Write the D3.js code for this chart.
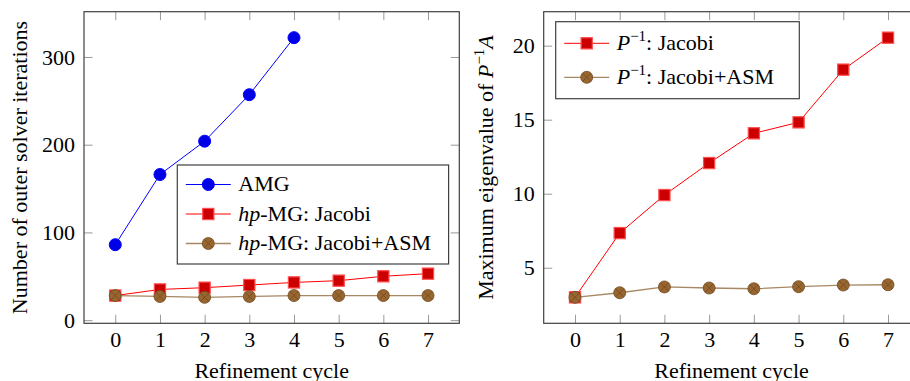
<!DOCTYPE html>
<html>
<head>
<meta charset="utf-8">
<script src="https://cdn.jsdelivr.net/npm/d3@7"></script>
<style>
  body { margin: 0; background: #fff; }
  svg { display: block; }
</style>
</head>
<body>
<div id="charts"></div>
<script>
var cycles = [0, 1, 2, 3, 4, 5, 6, 7];

// left panel: outer solver iterations
var amgIters = [86, 166, 204, 257, 322];
var jacobiIters = [28, 35, 37, 40, 43, 45, 50, 53];
var asmIters = [28, 27, 26, 27, 28, 28, 28, 28];
var leftTicks = [0, 100, 200, 300];

// right panel: max eigenvalue of P^-1 A
var jacobiEig = [3.0, 7.34, 9.91, 12.07, 14.08, 14.82, 18.38, 20.54];
var asmEig = [3.0, 3.31, 3.70, 3.63, 3.58, 3.72, 3.83, 3.85];
var rightTicks = [5, 10, 15, 20];

var FONT = 'Liberation Serif';
var W = 910, H = 381;
var svg = d3.select('#charts').append('svg')
  .attr('width', W)
  .attr('height', H)
  .attr('font-family', FONT)
  .attr('font-size', 22);

var styles = {
  amg:    {line: '#0000ff', lw: 1, mark: 'circle', fill: '#0000e6', stroke: '#0000ff'},
  jacobi: {line: '#ff0000', lw: 1, mark: 'square', fill: '#cc0000', stroke: '#ff4d4d'},
  asm:    {line: '#a88763', lw: 1.3, mark: 'otimes', fill: '#99662f', stroke: '#6e4a22'}
};

function enlarge(lo, hi) {
  var d = (hi - lo) * 0.1;
  return [lo - d, hi + d];
}

function drawMark(g, kind, st, cx, cy) {
  if (kind == 'circle') {
    g.append('circle').attr('cx', cx).attr('cy', cy).attr('r', 6)
      .attr('fill', st.fill).attr('stroke', st.stroke).attr('stroke-width', 1);
  } else if (kind == 'square') {
    g.append('rect').attr('x', cx - 5.6).attr('y', cy - 5.6)
      .attr('width', 11.2).attr('height', 11.2)
      .attr('fill', st.fill).attr('stroke', st.stroke).attr('stroke-width', 1.2);
  } else {
    g.append('circle').attr('cx', cx).attr('cy', cy).attr('r', 6)
      .attr('fill', st.fill).attr('stroke', st.stroke).attr('stroke-width', 0.8);
    var k = 6 * Math.SQRT1_2;
    g.append('path')
      .attr('d', 'M' + (cx - k) + ',' + (cy - k) + 'L' + (cx + k) + ',' + (cy + k) +
                 'M' + (cx - k) + ',' + (cy + k) + 'L' + (cx + k) + ',' + (cy - k))
      .attr('stroke', st.stroke).attr('stroke-width', 0.8);
  }
}

function panel(opt) {
  var x = d3.scaleLinear().domain(enlarge(0, 7)).range([opt.left, opt.right]);
  var y = d3.scaleLinear().domain(enlarge(opt.ymin, opt.ymax)).range([323.3, 11.7]);
  var g = svg.append('g');

  // ticks (inward on all four sides)
  var tl = 8.5;
  g.append('g').attr('transform', 'translate(0,323.3)')
    .call(d3.axisBottom(x).tickValues(cycles).tickSizeInner(-tl).tickSizeOuter(0).tickPadding(8.5));
  g.append('g').attr('transform', 'translate(0,11.7)')
    .call(d3.axisTop(x).tickValues(cycles).tickSizeInner(-tl).tickSizeOuter(0).tickFormat(''));
  g.append('g').attr('transform', 'translate(' + opt.left + ',0)')
    .call(d3.axisLeft(y).tickValues(opt.ticks).tickSizeInner(-tl).tickSizeOuter(0).tickPadding(9));
  g.append('g').attr('transform', 'translate(' + opt.right + ',0)')
    .call(d3.axisRight(y).tickValues(opt.ticks).tickSizeInner(-tl).tickSizeOuter(0).tickFormat(''));
  g.selectAll('.domain').remove();
  g.selectAll('.tick line').attr('stroke', '#999').attr('stroke-width', 1);
  g.selectAll('.tick text').attr('fill', '#000');

  g.append('rect')
    .attr('x', opt.left).attr('y', 11.7)
    .attr('width', opt.right - opt.left).attr('height', 323.3 - 11.7)
    .attr('fill', 'none').attr('stroke', '#404040').attr('stroke-width', 1.2);

  // series
  opt.series.forEach(function(s) {
    var st = styles[s.style];
    var pts = s.values.map(function(v, i) { return [x(cycles[i]), y(v)]; });
    g.append('path').attr('d', d3.line()(pts))
      .attr('fill', 'none').attr('stroke', st.line).attr('stroke-width', st.lw);
    pts.forEach(function(p) { drawMark(g, st.mark, st, p[0], p[1]); });
  });

  // axis labels
  g.append('text')
    .attr('x', (opt.left + opt.right) / 2).attr('y', 378)
    .attr('text-anchor', 'middle')
    .text('Refinement cycle');

  var yl = g.append('text')
    .attr('transform', 'translate(' + opt.ylabelX + ',167.5)rotate(-90)')
    .attr('text-anchor', 'middle');
  opt.ylabel(yl);

  // legend
  var L = opt.legend;
  var lg = g.append('g');
  lg.append('rect').attr('x', L.x).attr('y', L.y).attr('width', L.w).attr('height', L.h)
    .attr('fill', '#fff').attr('stroke', '#404040').attr('stroke-width', 1.2);
  L.items.forEach(function(it, i) {
    var st = styles[it.style];
    var cy = L.first + i * L.step;
    lg.append('line').attr('x1', L.x + 8.5).attr('x2', L.x + 53.5)
      .attr('y1', cy).attr('y2', cy)
      .attr('stroke', st.line).attr('stroke-width', st.lw);
    drawMark(lg, st.mark, st, L.x + 31, cy);
    var t = lg.append('text').attr('x', L.x + 61).attr('y', cy + 6.6);
    it.label(t);
  });
}

function pInv(t) {
  t.append('tspan').attr('font-style', 'italic').text('P');
  t.append('tspan').attr('dy', -9).attr('font-size', 15).text('\u22121');
}

panel({
  left: 84, right: 459.3, ymin: 26, ymax: 322, ticks: leftTicks,
  ylabelX: 27,
  ylabel: function(t) { t.text('Number of outer solver iterations'); },
  series: [
    {style: 'amg', values: amgIters},
    {style: 'jacobi', values: jacobiIters},
    {style: 'asm', values: asmIters}
  ],
  legend: {
    x: 177.3, y: 165, w: 271.3, h: 99, first: 184.5, step: 29.5,
    items: [
      {style: 'amg', label: function(t) { t.text('AMG'); }},
      {style: 'jacobi', label: function(t) {
        t.append('tspan').attr('font-style', 'italic').text('hp');
        t.append('tspan').text('-MG: Jacobi');
      }},
      {style: 'asm', label: function(t) {
        t.append('tspan').attr('font-style', 'italic').text('hp');
        t.append('tspan').text('-MG: Jacobi+ASM');
      }}
    ]
  }
});

panel({
  left: 543.7, right: 919.3, ymin: 3.0, ymax: 20.54, ticks: rightTicks,
  ylabelX: 493.3,
  ylabel: function(t) {
    t.append('tspan').text('Maximum eigenvalue of ');
    t.append('tspan').attr('font-style', 'italic').text('P');
    t.append('tspan').attr('dy', -9).attr('font-size', 15).text('\u22121');
    t.append('tspan').attr('dy', 9).attr('font-style', 'italic').text('A');
  },
  series: [
    {style: 'jacobi', values: jacobiEig},
    {style: 'asm', values: asmEig}
  ],
  legend: {
    x: 555.7, y: 21.7, w: 243.6, h: 77, first: 43.3, step: 34,
    items: [
      {style: 'jacobi', label: function(t) {
        pInv(t); t.append('tspan').attr('dy', 9).text(': Jacobi');
      }},
      {style: 'asm', label: function(t) {
        pInv(t); t.append('tspan').attr('dy', 9).text(': Jacobi+ASM');
      }}
    ]
  }
});

// d3 axes put their own font attributes on each axis group
svg.selectAll('g').filter(function() { return this.hasAttribute('font-family'); })
  .attr('font-family', FONT).attr('font-size', 22);
</script>
</body>
</html>
